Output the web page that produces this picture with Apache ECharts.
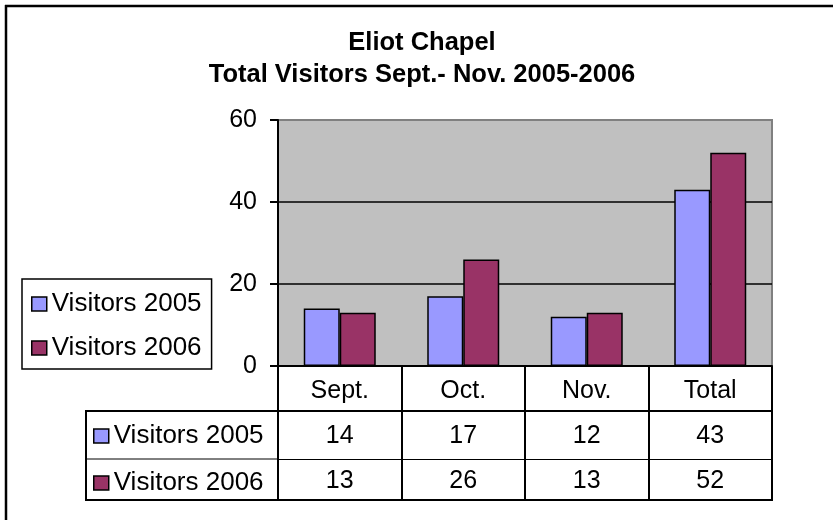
<!DOCTYPE html>
<html>
<head>
<meta charset="utf-8">
<script src="https://cdn.jsdelivr.net/npm/echarts@6/dist/echarts.min.js"></script>
<style>
    html, body {margin: 0; padding: 0; background: #fff;}
    #chart {width: 833px; height: 520px;}
</style>
</head>
<body>
<div id="chart"></div>
<script>
var categories = ['Sept.', 'Oct.', 'Nov.', 'Total'];
var seriesNames = ['Visitors 2005', 'Visitors 2006'];
var visitors2005 = [14, 17, 12, 43];
var visitors2006 = [13, 26, 13, 52];
var yTicks = [0, 20, 40, 60];

var font = 'Arial, "Liberation Sans", sans-serif';
var black = '#000';

var myChart = echarts.init(document.getElementById('chart'));

function tableAxis(offset, values, lineWidth, tickLen, margin) {
    return {
        type : 'category',
        gridIndex : 0,
        position : 'bottom',
        offset : offset,
        data : categories,
        axisLine : {show: true, lineStyle: {color: black, width: lineWidth}},
        axisTick : {show: true, interval: 0, length: tickLen, lineStyle: {color: black, width: 2}},
        axisLabel : {
            interval : 0,
            margin : margin,
            color : black,
            fontSize : 25,
            fontFamily : font,
            formatter : function(v, i) { return values ? String(values[i]) : v; }
        },
        splitLine : {show: false}
    };
}

var option = {
    backgroundColor : '#fff',
    animation : false,
    title : {
        text : 'Eliot Chapel\nTotal Visitors Sept.- Nov. 2005-2006',
        left : 422,
        top : 27,
        padding : 0,
        textAlign : 'center',
        textStyle : {
            color : black,
            fontSize : 25.5,
            fontWeight : 'bold',
            fontFamily : font,
            lineHeight : 32
        }
    },
    legend : [{
        orient : 'vertical',
        left : 22,
        top : 279,
        data : seriesNames,
        itemWidth : 15,
        itemHeight : 14,
        itemGap : 18,
        padding : [12, 10, 8, 9],
        borderColor : black,
        borderWidth : 1.5,
        icon : 'rect',
        selectedMode : false,
        itemStyle : {borderColor: black, borderWidth: 1.5},
        textStyle : {color: black, fontSize: 26, fontFamily: font, lineHeight: 24}
    }, {
        orient : 'vertical',
        left : 88,
        top : 418,
        data : seriesNames,
        itemWidth : 15,
        itemHeight : 14,
        itemGap : 21,
        icon : 'rect',
        selectedMode : false,
        itemStyle : {borderColor: black, borderWidth: 1.5},
        textStyle : {color: black, fontSize: 26, fontFamily: font, lineHeight: 24}
    }],
    grid : {
        left : 278,
        right : 61,
        top : 120,
        bottom : 154,
        show : true,
        backgroundColor : '#C0C0C0',
        borderColor : '#808080',
        borderWidth : 2
    },
    xAxis : [
        tableAxis(0, null, 2, 45, 13),
        tableAxis(45, visitors2005, 2, 48, 13),
        tableAxis(93, visitors2006, 1, 41, 10)
    ],
    yAxis : [{
        type : 'value',
        min : yTicks[0],
        max : yTicks[yTicks.length - 1],
        interval : 20,
        axisLine : {show: true, lineStyle: {color: black, width: 2}},
        axisTick : {show: true, length: 8, lineStyle: {color: black, width: 2}},
        axisLabel : {color: black, fontSize: 25, fontFamily: font, margin: 21},
        splitLine : {show: true, showMaxLine: false, lineStyle: {color: black, width: 1.5}}
    }],
    series : [{
        name : seriesNames[0],
        type : 'bar',
        data : visitors2005,
        barWidth : 36,
        barGap : '0%',
        itemStyle : {color: '#9999FF', borderColor: black, borderWidth: 1.5}
    }, {
        name : seriesNames[1],
        type : 'bar',
        data : visitors2006,
        barWidth : 36,
        barGap : '0%',
        itemStyle : {color: '#993366', borderColor: black, borderWidth: 1.5}
    }],
    graphic : [
        // outer frame (top and left edges only are visible)
        {type: 'line', shape: {x1: 5, y1: 6, x2: 833, y2: 6}, style: {stroke: black, lineWidth: 2.5}},
        {type: 'line', shape: {x1: 6, y1: 5, x2: 6, y2: 520}, style: {stroke: black, lineWidth: 2.5}},
        // left part of the data table
        {type: 'line', shape: {x1: 86, y1: 411, x2: 278, y2: 411}, style: {stroke: black, lineWidth: 2}},
        {type: 'line', shape: {x1: 86, y1: 459, x2: 278, y2: 459}, style: {stroke: black, lineWidth: 1}},
        {type: 'line', shape: {x1: 86, y1: 500, x2: 773, y2: 500}, style: {stroke: black, lineWidth: 2}},
        {type: 'line', shape: {x1: 86, y1: 410, x2: 86, y2: 501}, style: {stroke: black, lineWidth: 2}}
    ]
};

myChart.setOption(option);
</script>
</body>
</html>
